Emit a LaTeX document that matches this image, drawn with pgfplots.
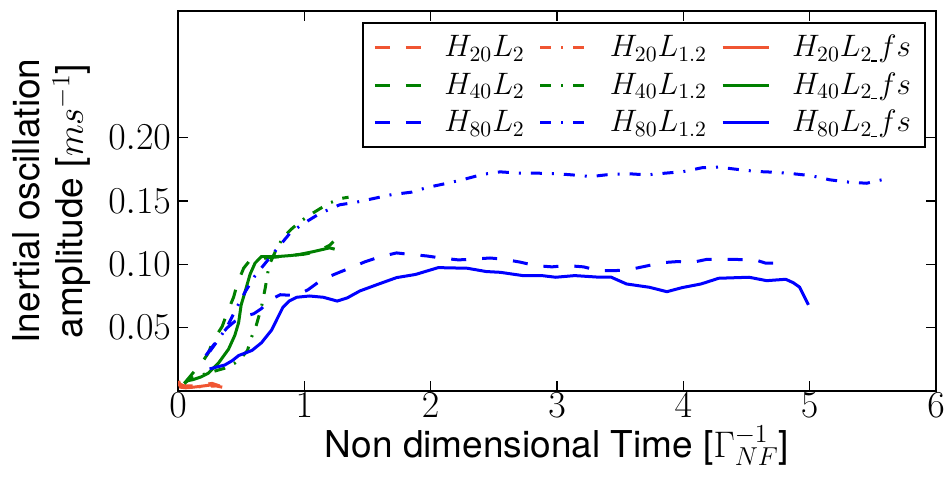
\RequirePackage{fix-cm}
\documentclass[border=0pt]{standalone}
\usepackage[no-math]{fontspec}
\setmainfont{TeX Gyre Heros}
\usepackage{pgfplots}
\pgfplotsset{compat=1.18}
\definecolor{cR}{RGB}{240,85,50}
\definecolor{cG}{RGB}{0,128,0}
\definecolor{cB}{RGB}{0,0,255}
\tikzset{dsh/.style={dash pattern=on 7.5pt off 8pt},
         dd/.style={dash pattern=on 5.5pt off 5pt on 1pt off 5pt}}
\newcommand{\us}{\mbox{\rule[-0.2pt]{3pt}{0.7pt}}}
\begin{document}
\begin{tikzpicture}
\begin{axis}[name=ax, scale only axis, width=379pt, height=190pt,
  xmin=0, xmax=6, ymin=0, ymax=0.3,
  xtick={0,1,2,3,4,5,6}, ytick={0.05,0.1,0.15,0.2},
  scaled y ticks=false,
  yticklabel style={/pgf/number format/.cd, fixed, fixed zerofill, precision=2},
  xticklabel style={yshift=2.5pt},
  tick label style={font=\fontsize{19}{23}\selectfont},
  label style={font=\fontsize{18.5}{21.5}\selectfont},
  xlabel={Non dimensional Time [$\Gamma^{-1}_{NF}$]},
  xlabel style={at={(axis description cs:0.5,-0.1737)}, anchor=base},
  ylabel={Inertial oscillation\\amplitude [$ms^{-1}$]},
  ylabel style={align=center, at={(axis description cs:-0.1055,0.5)}, anchor=south},
  axis line style={line width=1pt},
  major tick length=5pt,
  every tick/.style={black, line width=0.6pt},
  legend columns=3,
  legend cell align=left,
  legend image code/.code={\draw[#1] (0pt,0pt) -- (23pt,0pt);},
  legend style={at={(0.9868,0.971)}, anchor=north east, draw=black, line width=1pt,
    font=\fontsize{15.5}{18}\selectfont, inner xsep=5pt, inner ysep=4pt,
    /tikz/row sep=2.6pt,
    /tikz/every even column/.append style={column sep=5pt},
    /tikz/every odd column/.append style={column sep=9pt}},
  every axis plot/.append style={line width=1.5pt},
]
% H20
\addplot[cR, dsh] coordinates {(0.0,0.006) (0.05,0.004) (0.12,0.004) (0.2,0.005) (0.27,0.006) (0.33,0.004)};
\addlegendentry{$H_{20}L_2$}
\addplot[cR, dd] coordinates {(0.0,0.005) (0.1,0.003) (0.2,0.0035) (0.3,0.004)};
\addlegendentry{$H_{20}L_{1.2}$}
\addplot[cR] coordinates {(0.005,0.008) (0.02,0.003) (0.06,0.0025) (0.12,0.003) (0.18,0.0037) (0.24,0.0045) (0.28,0.005) (0.31,0.0038) (0.35,0.003)};
\addlegendentry{$H_{20}L_{2\us}fs$}
% H40
\addplot[cG, dsh] coordinates {(0.05,0.006) (0.1,0.012) (0.15,0.018) (0.2,0.024) (0.24,0.03) (0.28,0.04) (0.35,0.051) (0.39,0.062) (0.44,0.074) (0.47,0.085) (0.52,0.097) (0.56,0.102) (0.62,0.1035) (0.7,0.105) (0.8,0.106) (0.9,0.107) (1.0,0.108) (1.1,0.11) (1.2,0.115) (1.23,0.118)};
\addlegendentry{$H_{40}L_2$}
\addplot[cG, dd] coordinates {(0.05,0.006) (0.1,0.01) (0.2,0.013) (0.3,0.016) (0.37,0.018) (0.45,0.022) (0.5,0.026) (0.55,0.032) (0.58,0.042) (0.62,0.052) (0.66,0.066) (0.69,0.081) (0.72,0.099) (0.77,0.11) (0.83,0.121) (0.9,0.128) (0.97,0.134) (1.06,0.14) (1.19,0.148) (1.29,0.152) (1.35,0.153)};
\addlegendentry{$H_{40}L_{1.2}$}
\addplot[cG] coordinates {(0.07,0.008) (0.12,0.009) (0.18,0.011) (0.24,0.014) (0.32,0.022) (0.40,0.033) (0.45,0.044) (0.48,0.054) (0.50,0.068) (0.53,0.078) (0.57,0.092) (0.61,0.101) (0.66,0.106) (0.77,0.106) (0.9,0.107) (0.97,0.108) (1.07,0.11) (1.2,0.113) (1.24,0.112)};
\addlegendentry{$H_{40}L_{2\us}fs$}
% H80
\addplot[cB, dsh] coordinates {(0.22,0.028) (0.28,0.036) (0.33,0.043) (0.39,0.05) (0.45,0.055) (0.53,0.059) (0.6,0.061) (0.66,0.065) (0.73,0.072) (0.81,0.076) (0.9,0.0755) (0.97,0.077) (1.03,0.08) (1.14,0.088) (1.26,0.093) (1.36,0.097) (1.48,0.102) (1.6,0.106) (1.73,0.109) (1.82,0.108) (1.97,0.1066) (2.08,0.105) (2.22,0.1035) (2.32,0.104) (2.47,0.105) (2.58,0.104) (2.71,0.1017) (2.83,0.099) (2.96,0.098) (3.08,0.099) (3.21,0.098) (3.33,0.095) (3.46,0.095) (3.58,0.096) (3.71,0.0987) (3.83,0.1013) (3.96,0.1022) (4.06,0.1013) (4.19,0.104) (4.31,0.104) (4.44,0.1038) (4.56,0.1038) (4.65,0.101) (4.72,0.101) (4.79,0.1056)};
\addlegendentry{$H_{80}L_2$}
\addplot[cB, dd] coordinates {(0.25,0.031) (0.33,0.042) (0.39,0.051) (0.45,0.063) (0.53,0.078) (0.61,0.091) (0.70,0.102) (0.79,0.113) (0.89,0.125) (0.99,0.132) (1.12,0.14) (1.28,0.147) (1.41,0.149) (1.55,0.152) (1.69,0.155) (1.85,0.157) (1.97,0.1606) (2.13,0.164) (2.26,0.167) (2.41,0.171) (2.55,0.173) (2.7,0.172) (2.83,0.172) (3.0,0.1715) (3.12,0.1706) (3.27,0.1693) (3.42,0.171) (3.57,0.1715) (3.71,0.1706) (3.86,0.172) (4.0,0.1732) (4.15,0.1763) (4.28,0.1767) (4.44,0.1748) (4.58,0.1733) (4.72,0.1727) (4.87,0.1715) (5.01,0.170) (5.16,0.1667) (5.30,0.165) (5.45,0.164) (5.57,0.1667)};
\addlegendentry{$H_{80}L_{1.2}$}
\addplot[cB] coordinates {(0.25,0.0174) (0.31,0.019) (0.37,0.0205) (0.43,0.024) (0.48,0.028) (0.585,0.032) (0.66,0.038) (0.74,0.048) (0.78,0.056) (0.83,0.066) (0.88,0.071) (0.94,0.074) (1.04,0.075) (1.15,0.074) (1.26,0.071) (1.34,0.0735) (1.44,0.079) (1.59,0.0845) (1.73,0.0895) (1.88,0.092) (2.06,0.0974) (2.29,0.0969) (2.44,0.0943) (2.55,0.0937) (2.73,0.0911) (2.88,0.0911) (2.99,0.0898) (3.14,0.0911) (3.34,0.0898) (3.43,0.0898) (3.55,0.0845) (3.73,0.0819) (3.87,0.0784) (3.99,0.0816) (4.14,0.0845) (4.28,0.089) (4.52,0.0898) (4.66,0.0871) (4.81,0.0882) (4.87,0.0855) (4.92,0.082) (4.99,0.068)};
\addlegendentry{$H_{80}L_{2\us}fs$}
\end{axis}
\pgfresetboundingbox
\path[use as bounding box] ([shift={(-89pt,-44pt)}]ax.south west) rectangle ([shift={(5.5pt,5.5pt)}]ax.north east);
\end{tikzpicture}
\end{document}
